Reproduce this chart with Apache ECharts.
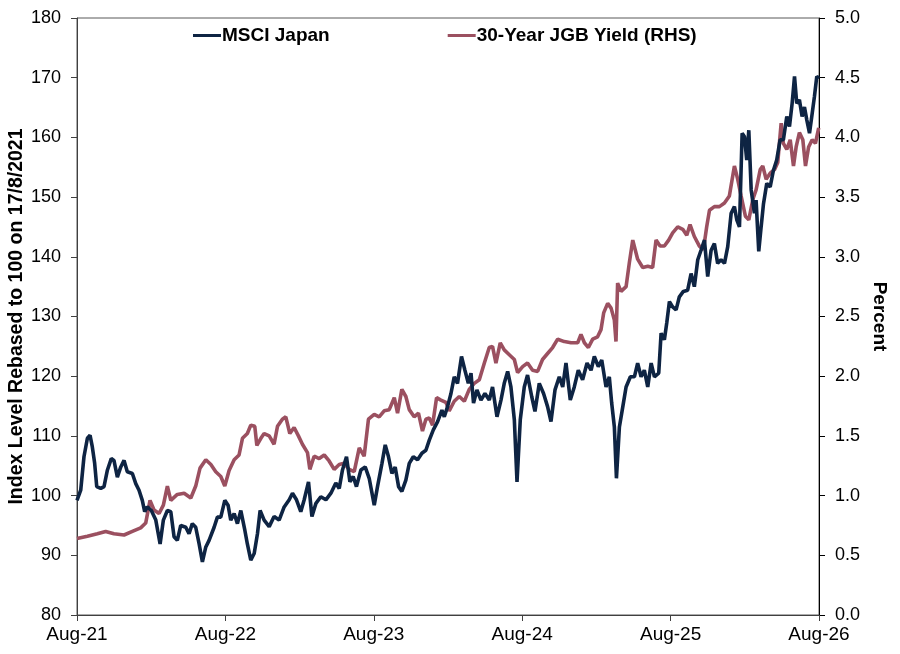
<!DOCTYPE html>
<html>
<head>
<meta charset="utf-8">
<script src="https://cdn.jsdelivr.net/npm/echarts@6/dist/echarts.min.js"></script>
<style>
html,body{margin:0;padding:0;background:#fff;}
#chart{width:900px;height:654px;}
</style>
</head>
<body>
<div id="chart"></div>
<script>
// Time in years since 17 Aug 2021
const xTickLabels = ['Aug-21', 'Aug-22', 'Aug-23', 'Aug-24', 'Aug-25', 'Aug-26'];
const seriesNames = ['MSCI Japan', '30-Year JGB Yield (RHS)'];

const msciTime = [
0.000,0.025,0.047,0.070,0.088,0.103,0.119,0.133,0.160,0.182,0.204,0.231,0.249,0.272,0.295,0.317,0.339,0.373,0.396,0.418,
0.440,0.456,0.474,0.501,0.531,0.560,0.582,0.609,0.632,0.654,0.676,0.699,0.733,0.755,0.777,0.800,0.823,0.845,0.868,0.890,
0.924,0.946,0.969,0.996,1.018,1.036,1.059,1.081,1.104,1.131,1.148,1.171,1.194,1.216,1.234,1.261,1.295,1.328,1.362,1.396,
1.430,1.452,1.479,1.508,1.531,1.560,1.583,1.610,1.643,1.677,1.711,1.744,1.767,1.789,1.816,1.839,1.861,1.883,1.913,1.942,
1.969,2.003,2.025,2.055,2.077,2.099,2.122,2.144,2.167,2.189,2.216,2.239,2.266,2.295,2.324,2.351,2.374,2.401,2.430,2.459,
2.475,2.497,2.520,2.542,2.564,2.591,2.614,2.637,2.655,2.672,2.695,2.722,2.749,2.778,2.800,2.830,2.857,2.879,2.902,2.924,
2.947,2.965,2.987,3.014,3.036,3.064,3.086,3.115,3.144,3.171,3.194,3.221,3.250,3.273,3.295,3.324,3.351,3.378,3.407,3.437,
3.464,3.486,3.513,3.536,3.565,3.587,3.603,3.621,3.635,3.655,3.678,3.700,3.729,3.756,3.778,3.801,3.823,3.846,3.869,3.891,
3.920,3.936,3.958,3.974,3.992,4.014,4.037,4.059,4.086,4.115,4.138,4.160,4.183,4.205,4.228,4.250,4.273,4.295,4.317,4.340,
4.363,4.385,4.408,4.430,4.446,4.464,4.482,4.498,4.513,4.527,4.543,4.565,4.576,4.594,4.610,4.626,4.648,4.671,4.693,4.715,
4.738,4.760,4.783,4.801,4.819,4.835,4.850,4.868,4.886,4.902,4.918,4.936,4.954,4.969,4.985,5.000
];
const msciValues = [
99.2,100.9,106.5,109.6,110.1,108.2,105.4,101.5,101.2,101.5,104.2,106.2,105.9,103.1,104.8,105.9,104.0,103.7,102.0,100.9,
99.2,97.3,98.1,97.5,95.9,91.9,95.9,97.5,97.3,93.1,92.5,95.0,94.7,93.6,95.3,94.7,91.9,88.9,91.4,92.5,
94.7,96.4,96.4,99.2,98.4,95.9,97.0,95.3,97.5,94.2,91.9,89.2,90.3,93.6,97.5,95.9,94.8,96.5,95.9,98.1,
99.3,100.4,99.3,97.3,99.3,102.3,96.5,98.7,99.8,99.3,100.4,102.1,101.2,104.3,106.5,102.3,103.2,101.5,104.3,104.8,
102.9,98.4,101.5,105.4,108.5,106.5,103.7,104.8,101.5,100.7,102.6,105.4,106.5,106.0,107.1,107.6,109.3,111.0,112.4,114.3,
113.2,114.9,117.1,119.9,118.8,123.3,121.0,118.8,120.5,115.5,117.7,116.0,117.1,116.0,118.2,113.2,116.0,118.8,120.8,118.2,
112.7,102.3,112.7,118.2,120.2,116.6,114.1,118.8,117.1,114.9,112.4,117.7,119.9,118.2,122.2,116.0,118.2,121.0,119.4,122.2,
121.0,123.3,121.6,122.7,118.2,119.9,115.5,111.5,102.9,111.5,114.9,118.2,119.9,119.9,122.2,119.9,121.0,118.2,122.2,119.9,
120.5,127.2,126.1,128.9,132.5,131.6,131.1,133.3,134.2,134.4,137.2,135.0,139.5,141.1,142.8,136.7,141.1,142.2,138.9,139.5,
138.9,141.7,147.3,148.4,146.2,145.0,160.7,160.1,156.2,161.2,151.2,147.3,149.5,140.9,145.0,148.9,152.3,151.7,154.5,156.2,
159.6,159.6,163.5,161.8,165.7,170.2,165.7,166.3,163.5,165.1,162.9,160.7,164.0,166.8,170.2,169.9
];

const jgbTime = [
0.000,0.070,0.137,0.193,0.249,0.317,0.373,0.429,0.463,0.492,0.519,0.553,0.582,0.609,0.632,0.676,0.722,0.767,0.800,0.829,
0.868,0.902,0.935,0.969,0.996,1.025,1.059,1.092,1.115,1.148,1.171,1.198,1.212,1.239,1.261,1.295,1.328,1.351,1.384,1.407,
1.434,1.463,1.492,1.519,1.553,1.569,1.598,1.632,1.666,1.699,1.733,1.767,1.800,1.834,1.868,1.902,1.935,1.964,2.003,2.036,
2.070,2.104,2.138,2.160,2.189,2.216,2.239,2.272,2.301,2.328,2.351,2.374,2.396,2.423,2.452,2.486,2.508,2.542,2.576,2.610,
2.643,2.677,2.711,2.745,2.778,2.800,2.823,2.852,2.879,2.913,2.947,2.969,3.003,3.036,3.070,3.104,3.137,3.171,3.205,3.239,
3.284,3.329,3.374,3.396,3.419,3.446,3.475,3.508,3.531,3.549,3.576,3.599,3.621,3.632,3.643,3.666,3.700,3.722,3.745,3.778,
3.812,3.846,3.879,3.902,3.929,3.958,3.987,4.014,4.048,4.082,4.109,4.131,4.160,4.194,4.221,4.243,4.262,4.295,4.329,4.363,
4.396,4.430,4.452,4.475,4.504,4.527,4.554,4.576,4.604,4.621,4.644,4.671,4.700,4.722,4.745,4.760,4.783,4.806,4.828,4.846,
4.868,4.891,4.909,4.930,4.954,4.976,4.998
];
const jgbValues = [
0.64,0.66,0.68,0.70,0.68,0.67,0.70,0.73,0.77,0.96,0.88,0.85,0.92,1.08,0.96,1.01,1.02,0.98,1.08,1.23,
1.30,1.26,1.20,1.16,1.08,1.21,1.30,1.34,1.48,1.52,1.59,1.58,1.42,1.48,1.52,1.50,1.43,1.58,1.64,1.66,
1.52,1.57,1.50,1.43,1.36,1.22,1.33,1.31,1.34,1.29,1.22,1.26,1.27,1.22,1.20,1.40,1.33,1.64,1.68,1.66,
1.71,1.72,1.82,1.69,1.89,1.83,1.72,1.66,1.69,1.54,1.64,1.65,1.59,1.82,1.80,1.78,1.71,1.79,1.83,1.79,
1.89,1.94,1.97,2.11,2.24,2.25,2.11,2.28,2.22,2.18,2.14,2.03,2.08,2.11,2.05,2.04,2.14,2.19,2.24,2.31,
2.29,2.28,2.28,2.35,2.28,2.24,2.31,2.33,2.39,2.53,2.61,2.57,2.47,2.29,2.78,2.71,2.75,2.95,3.14,2.98,
2.91,2.92,2.91,3.14,3.09,3.09,3.14,3.20,3.25,3.23,3.18,3.27,3.17,3.09,3.06,3.25,3.39,3.42,3.42,3.45,
3.51,3.76,3.65,3.51,3.34,3.31,3.48,3.56,3.73,3.76,3.65,3.70,3.73,3.79,4.12,3.95,3.90,3.98,3.76,3.92,
4.04,3.98,3.76,3.92,3.98,3.95,4.08
];

const msciData = msciTime.map((t, i) => [t, msciValues[i]]);
const jgbData = jgbTime.map((t, i) => [t, jgbValues[i]]);

const FONT = '"Liberation Sans", Arial, sans-serif';
const NAVY = '#0e2443';
const RED = '#9b5060';
const AXIS = '#404040';

const chart = echarts.init(document.getElementById('chart'), null, {renderer: 'canvas'});
chart.setOption({
  animation: false,
  backgroundColor: '#ffffff',
  textStyle: {fontFamily: FONT},
  grid: {left: 77, right: 81, top: 18, bottom: 39, show: true, borderColor: '#595959', borderWidth: 1,
    containLabel: false, outerBoundsMode: 'none'},
  legend: {
    left: 188, top: 21,
    itemWidth: 28, itemHeight: 3, itemGap: 118,
    icon: 'rect',
    textStyle: {fontFamily: FONT, fontSize: 19, fontWeight: 'bold', color: '#000', padding: [0, 0, 0, -4]},
    data: seriesNames
  },
  xAxis: {
    type: 'value', min: 0, max: 5, interval: 1,
    axisLine: {show: true, lineStyle: {color: AXIS, width: 1}},
    axisTick: {show: true, length: 6, lineStyle: {color: AXIS}},
    splitLine: {show: false},
    axisLabel: {fontFamily: FONT, fontSize: 19, color: '#000', margin: 10,
      formatter: v => xTickLabels[Math.round(v)] || ''}
  },
  yAxis: [
    {
      type: 'value', min: 80, max: 180, interval: 10, position: 'left',
      name: 'Index Level Rebased to 100 on 17/8/2021',
      nameLocation: 'middle', nameGap: 50, nameRotate: 90, nameMoveOverlap: false,
      nameTextStyle: {fontFamily: FONT, fontSize: 19.5, fontWeight: 'bold', color: '#000'},
      axisLine: {show: true, lineStyle: {color: AXIS, width: 1}},
      axisTick: {show: true, length: 6, lineStyle: {color: AXIS}},
      splitLine: {show: false},
      axisLabel: {fontFamily: FONT, fontSize: 18, color: '#000', margin: 16}
    },
    {
      type: 'value', min: 0, max: 5, interval: 0.5, position: 'right',
      name: 'Percent',
      nameLocation: 'middle', nameGap: 51, nameRotate: -90, nameMoveOverlap: false,
      nameTextStyle: {fontFamily: FONT, fontSize: 19, fontWeight: 'bold', color: '#000'},
      axisLine: {show: true, lineStyle: {color: '#000', width: 1}},
      axisTick: {show: true, length: 6, lineStyle: {color: '#000'}},
      splitLine: {show: false},
      axisLabel: {fontFamily: FONT, fontSize: 18, color: '#000', margin: 16,
        formatter: v => v.toFixed(1)}
    }
  ],
  series: [
    {
      name: seriesNames[1], type: 'line', yAxisIndex: 1, data: jgbData,
      showSymbol: false, symbol: 'none',
      lineStyle: {color: RED, width: 3.6}, itemStyle: {color: RED}, z: 2
    },
    {
      name: seriesNames[0], type: 'line', yAxisIndex: 0, data: msciData,
      showSymbol: false, symbol: 'none',
      lineStyle: {color: NAVY, width: 3.6}, itemStyle: {color: NAVY}, z: 3
    }
  ]
});
</script>
</body>
</html>
